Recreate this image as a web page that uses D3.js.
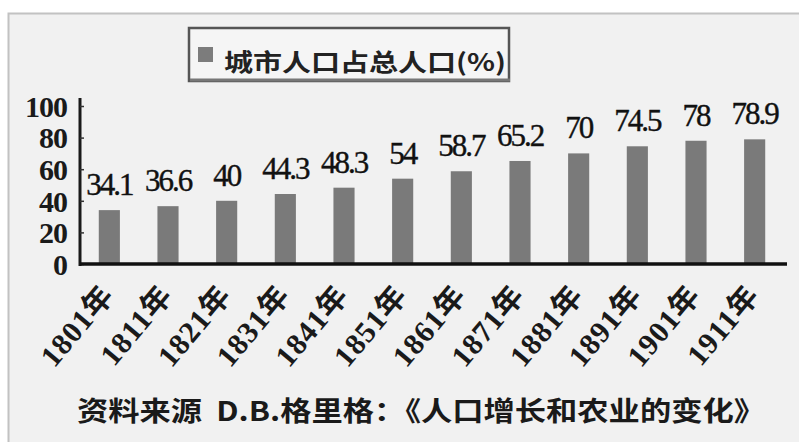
<!DOCTYPE html>
<html>
<head>
  <meta charset="utf-8">
  <title>城市人口占总人口</title>
  <style>
    html, body { margin: 0; padding: 0; background: #fff; }
    svg { display: block; }
  </style>
</head>
<body>
  <div id="chart"><svg width="799" height="442"></svg></div>

<script src="https://cdn.jsdelivr.net/npm/d3@7"></script>
<script>
  var years = ['1801年', '1811年', '1821年', '1831年', '1841年', '1851年',
               '1861年', '1871年', '1881年', '1891年', '1901年', '1911年'];
  var urbanShare = [34.1, 36.6, 40, 44.3, 48.3, 54, 58.7, 65.2, 70, 74.5, 78, 78.9];
  var yTicks = [0, 20, 40, 60, 80, 100];
  var legendLabel = '城市人口占总人口(%)';
  var sourceLabel = '资料来源  D.B.格里格：《人口增长和农业的变化》';

  var serif = '"Liberation Serif", "Times New Roman", "DejaVu Serif", serif';
  var cjk = '"Noto Sans CJK SC", "Noto Sans", sans-serif';

  var svg = d3.select('#chart svg');

  // scanned page frame
  svg.append('rect')
      .attr('x', 8.5)
      .attr('y', 13.5)
      .attr('width', 800)
      .attr('height', 440)
      .attr('fill', '#f1f1f1')
      .attr('stroke', '#c2c2c2')
      .attr('stroke-width', 2);

  var x = d3.scaleBand()
      .domain(years)
      .range([80, 784])
      .paddingInner(0.64)
      .paddingOuter(0.32);

  var y = d3.scaleLinear()
      .domain([0, 100])
      .range([264, 106]);

  // legend
  var legend = svg.append('g').attr('class', 'legend');
      legend.append('rect')
        .attr('x', 189)
        .attr('y', 28)
        .attr('width', 320)
        .attr('height', 53)
        .attr('fill', '#f5f5f5')
        .attr('stroke', '#555')
        .attr('stroke-width', 2.5);
      legend.append('line')
        .attr('x1', 190).attr('x2', 510)
        .attr('y1', 80).attr('y2', 80)
        .attr('stroke', '#777')
        .attr('stroke-width', 3);
      legend.append('rect')
        .attr('x', 198)
        .attr('y', 47)
        .attr('width', 15)
        .attr('height', 15)
        .attr('fill', '#7c7c7c');
      legend.append('text')
        .attr('x', 224)
        .attr('y', 71)
        .attr('textLength', 282)
        .attr('lengthAdjust', 'spacingAndGlyphs')
        .style('font-family', cjk)
        .style('font-weight', 'bold')
        .style('font-size', '24px')
        .style('fill', '#222')
        .text(legendLabel);

  // y axis, ticks point inward
  var yAxis = svg.append('g')
      .attr('transform', 'translate(80,0)')
      .call(d3.axisLeft(y).tickValues(yTicks).tickSizeInner(-4).tickSizeOuter(0).tickPadding(13));
  yAxis.select('.domain')
      .attr('d', 'M0,98V266')
      .attr('stroke', '#1a1a1a')
      .attr('stroke-width', 3);
  yAxis.selectAll('.tick line')
      .attr('stroke', '#333')
      .attr('stroke-width', 1.5);
  yAxis.selectAll('.tick text')
      .attr('dy', '0.34em')
      .style('font-family', serif)
      .style('font-weight', 'bold')
      .style('font-size', '30px')
      .style('letter-spacing', '-1px')
      .style('fill', '#1a1a1a');

  // bars
  svg.append('g').attr('class', 'bars')
    .selectAll('rect')
      .data(urbanShare)
    .enter().append('rect')
      .attr('x', function(d, i) { return x(years[i]); })
      .attr('y', function(d) { return y(d); })
      .attr('width', x.bandwidth())
      .attr('height', function(d) { return y(0) - y(d); })
      .attr('fill', '#7a7a7a');

  // value labels
  svg.append('g').attr('class', 'values')
    .selectAll('text')
      .data(urbanShare)
    .enter().append('text')
      .attr('x', function(d, i) { return x(years[i]) + x.bandwidth() / 2; })
      .attr('y', function(d) { return y(d) - 15; })
      .attr('text-anchor', 'middle')
      .style('font-family', serif)
      .style('font-size', '31px')
      .style('letter-spacing', '-2px')
      .style('fill', '#111')
      .style('stroke', '#111')
      .style('stroke-width', 0.4)
      .text(function(d) { return d; });

  // x axis
  var xAxis = svg.append('g')
      .attr('transform', 'translate(0,' + y(0) + ')')
      .call(d3.axisBottom(x).tickSize(0));
  xAxis.select('.domain')
      .attr('d', 'M80,0H787')
      .attr('stroke', '#111')
      .attr('stroke-width', 3.5);
  xAxis.selectAll('.tick text')
      .attr('x', 0)
      .attr('y', 0)
      .attr('dy', 0)
      .attr('transform', 'translate(6,32) rotate(-50)')
      .attr('text-anchor', 'end')
      .style('font-family', serif + ', ' + cjk)
      .style('font-weight', 'bold')
      .style('font-size', '30px')
      .style('letter-spacing', '1px')
      .style('fill', '#1a1a1a');

  // source note
  svg.append('text')
      .attr('x', 77)
      .attr('y', 421)
      .attr('textLength', 688)
      .attr('lengthAdjust', 'spacingAndGlyphs')
      .attr('xml:space', 'preserve')
      .style('font-family', cjk)
      .style('font-weight', 'bold')
      .style('font-size', '27px')
      .style('fill', '#1a1a1a')
      .text(sourceLabel);
</script>
</body>
</html>
